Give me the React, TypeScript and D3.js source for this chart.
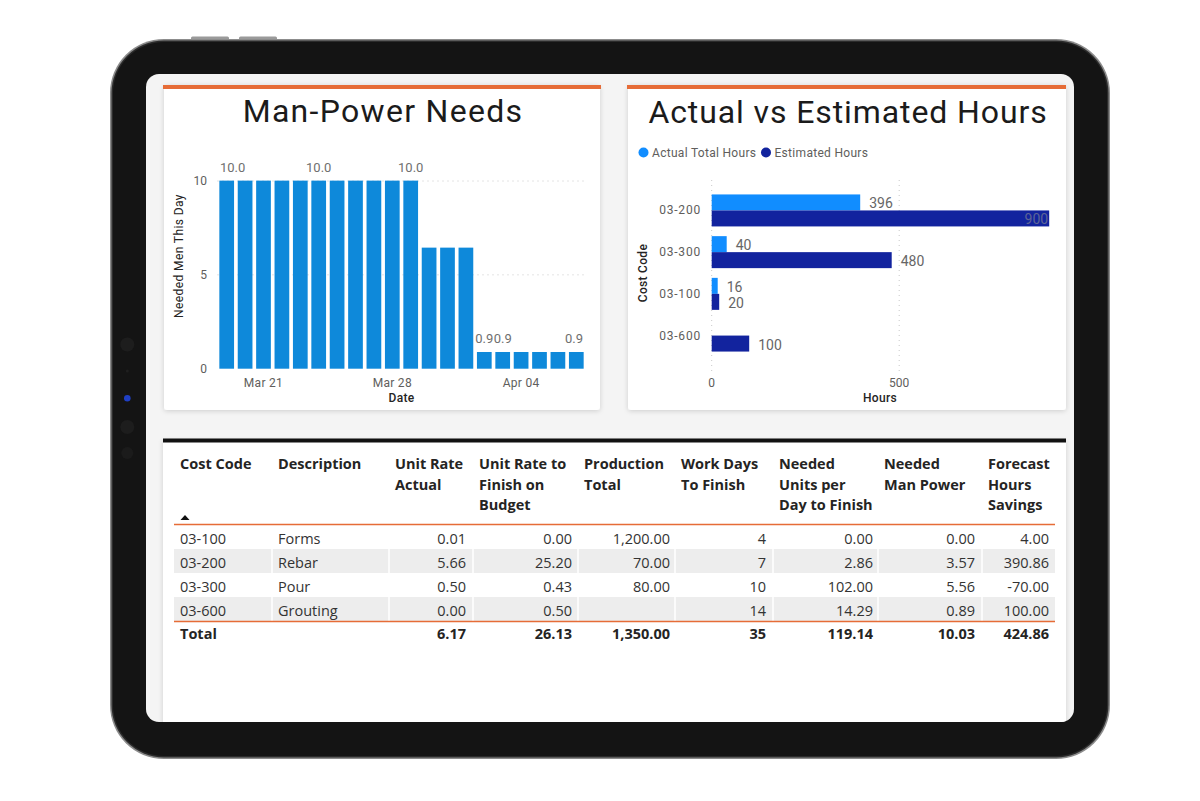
import * as d3 from 'd3'

// ---- Man-Power Needs (daily) ----
const days = [
  '2021-03-19', '2021-03-20', '2021-03-21', '2021-03-22', '2021-03-23',
  '2021-03-24', '2021-03-25', '2021-03-26', '2021-03-27', '2021-03-28',
  '2021-03-29', '2021-03-30', '2021-03-31', '2021-04-01', '2021-04-02',
  '2021-04-03', '2021-04-04', '2021-04-05', '2021-04-06', '2021-04-07',
]
const menNeeded = [
  10.02, 10.02, 10.02, 10.02, 10.02, 10.02, 10.02, 10.02, 10.02, 10.02,
  10.02, 6.45, 6.45, 6.45, 0.89, 0.89, 0.89, 0.89, 0.89, 0.89,
]
const dayTicks = ['2021-03-21', '2021-03-28', '2021-04-04']
const labelledDays = ['2021-03-19', '2021-03-24', '2021-03-29', '2021-04-02', '2021-04-03', '2021-04-07']
const menTicks = [0, 5, 10]

// ---- Actual vs Estimated Hours ----
const hourCodes = ['03-200', '03-300', '03-100', '03-600']
const actualHours: (number | null)[] = [396, 40, 16, null]
const estimatedHours = [900, 480, 20, 100]
const hourTicks = [0, 500]

// ---- table ----
const tableHeaders = [
  ['Cost Code'], ['Description'], ['Unit Rate', 'Actual'], ['Unit Rate to', 'Finish on', 'Budget'],
  ['Production', 'Total'], ['Work Days', 'To Finish'], ['Needed', 'Units per', 'Day to Finish'],
  ['Needed', 'Man Power'], ['Forecast', 'Hours', 'Savings'],
]
const tableCodes = ['03-100', '03-200', '03-300', '03-600']
const descriptions = ['Forms', 'Rebar', 'Pour', 'Grouting']
const unitRateActual = [0.01, 5.66, 0.5, 0.0]
const unitRateToFinish = [0.0, 25.2, 0.43, 0.5]
const productionTotal: (number | null)[] = [1200, 70, 80, null]
const workDaysToFinish = [4, 7, 10, 14]
const neededUnitsPerDay = [0.0, 2.86, 102.0, 14.29]
const neededManPower = [0.0, 3.57, 5.56, 0.89]
const forecastHoursSavings = [4.0, 390.86, -70.0, 100.0]
const totalsRow: (number | null)[] = [6.17, 26.13, 1350, 35, 119.14, 10.03, 424.86]

const ORANGE = '#E66C37'
const BLUE = '#118DFF'
const NAVY = '#12239E'
const DIN = 'Roboto, "DejaVu Sans", sans-serif'
const SEGOE = '"Open Sans", "Noto Sans", sans-serif'

const locale = d3.formatLocale({ decimal: '.', thousands: ',', grouping: [3], currency: ['$', ''], minus: '-' })
const fmt2 = locale.format(',.2f')
const fmtInt = locale.format('d')
const fmt1 = locale.format('.1f')

function labelWidth(s: string, size: number) {
  let w = 0
  for (const c of s) w += c === '.' ? size * 0.27 : size * 0.56
  return w
}

function ManPower() {
  const x = d3.scaleBand<string>().domain(days).range([217.5, 585.5]).paddingInner(0.2).paddingOuter(0.1)
  const y = d3.scaleLinear().domain([0, 10]).range([368.7, 181])
  const left = 217.5
  const right = 585.5
  return (
    <g>
      <text x={383} y={122} textAnchor="middle" fontFamily={DIN} fontWeight={400} fontSize={32}
        letterSpacing={1.3} fill="#1b1b1b">Man-Power Needs</text>
      {menTicks.filter(t => t > 0).map(t => (
        <line key={t} x1={left} x2={right} y1={y(t)} y2={y(t)} stroke="#c8c8c8" strokeDasharray="1 4" />
      ))}
      {menTicks.map(t => (
        <text key={t} x={207} y={y(t) + 4} textAnchor="end" fontFamily={DIN} fontSize={12} fill="#605E5C">{t}</text>
      ))}
      <text transform="translate(183,256) rotate(-90)" textAnchor="middle" fontFamily={DIN} fontSize={12}
        letterSpacing={0.4} fill="#252423">Needed Men This Day</text>
      {days.map((d, i) => (
        <rect key={d} x={x(d)} y={y(menNeeded[i])} width={x.bandwidth()} height={y(0) - y(menNeeded[i])} fill="#0E89DA" />
      ))}
      {days.map((d, i) => {
        if (!labelledDays.includes(d)) return null
        const s = fmt1(menNeeded[i])
        const w = labelWidth(s, 13)
        let cx = (x(d) ?? 0) + x.bandwidth() / 2
        cx = Math.max(left + 2.5 + w / 2, Math.min(right - 2.5 - w / 2, cx))
        return (
          <text key={d} x={cx} y={y(menNeeded[i]) - 9} textAnchor="middle" fontFamily={DIN} fontSize={13} fill="#6f6f6f">{s}</text>
        )
      })}
      {dayTicks.map(d => (
        <text key={d} x={(x(d) ?? 0) + x.bandwidth() / 2} y={387} textAnchor="middle" fontFamily={DIN} fontSize={12}
          letterSpacing={0.3} fill="#605E5C">{d3.timeFormat('%b %d')(new Date(d + 'T00:00:00'))}</text>
      ))}
      <text x={(left + right) / 2} y={402} textAnchor="middle" fontFamily={DIN} fontSize={12} fontWeight={500}
        letterSpacing={0.3} fill="#252423">Date</text>
    </g>
  )
}

function HoursChart() {
  const x = d3.scaleLinear().domain([0, 900]).range([711.7, 1049.2])
  const y = d3.scaleBand<string>().domain(hourCodes).range([174, 372]).paddingInner(0.233).paddingOuter(0.49)
  const half = y.bandwidth() / 2
  const plotRight = 1050
  const bars: { code: string; v: number | null; row: number; color: string }[] = []
  hourCodes.forEach((c, i) => {
    bars.push({ code: c, v: actualHours[i], row: 0, color: BLUE })
    bars.push({ code: c, v: estimatedHours[i], row: 1, color: NAVY })
  })
  return (
    <g>
      <text x={848} y={123} textAnchor="middle" fontFamily={DIN} fontWeight={400} fontSize={32}
        letterSpacing={0.9} fill="#1b1b1b">Actual vs Estimated Hours</text>
      <circle cx={643.5} cy={152.5} r={5} fill={BLUE} />
      <text x={652} y={157} fontFamily={DIN} fontSize={12} letterSpacing={0.3} fill="#605E5C">Actual Total Hours</text>
      <circle cx={766} cy={152.5} r={5} fill={NAVY} />
      <text x={774.5} y={157} fontFamily={DIN} fontSize={12} letterSpacing={0.3} fill="#605E5C">Estimated Hours</text>
      {hourTicks.map(t => (
        <g key={t}>
          <line x1={x(t)} x2={x(t)} y1={180} y2={373} stroke="#c8c8c8" strokeDasharray="1 4" />
          <text x={x(t)} y={387} textAnchor="middle" fontFamily={DIN} fontSize={12} fill="#605E5C">{t}</text>
        </g>
      ))}
      <text x={880} y={402} textAnchor="middle" fontFamily={DIN} fontSize={12} fontWeight={500}
        letterSpacing={0.3} fill="#252423">Hours</text>
      <text transform="translate(647,273) rotate(-90)" textAnchor="middle" fontFamily={DIN} fontSize={12}
        fontWeight={500} letterSpacing={0.3} fill="#252423">Cost Code</text>
      {hourCodes.map(c => (
        <text key={c} x={701} y={(y(c) ?? 0) + half + 4} textAnchor="end" fontFamily={DIN} fontSize={12}
          letterSpacing={0.8} fill="#605E5C">{c}</text>
      ))}
      {bars.map(b => {
        if (b.v == null) return null
        const top = (y(b.code) ?? 0) + b.row * half
        const end = x(b.v)
        const s = String(b.v)
        const w = labelWidth(s, 14)
        const inside = end + 9 + w > plotRight
        return (
          <g key={b.code + b.row}>
            <rect x={x(0)} y={top} width={end - x(0)} height={half} fill={b.color} />
            <text x={inside ? end - 1 : end + 9} y={top + half / 2 + 6} textAnchor={inside ? 'end' : 'start'}
              fontFamily={DIN} fontSize={14} fill={inside ? '#5d6496' : '#666'}>{s}</text>
          </g>
        )
      })}
    </g>
  )
}

function Table() {
  const edges = [174, 272, 389, 473, 578, 675, 773, 878, 982, 1055]
  const rowTop = d3.scaleBand<number>().domain(d3.range(tableCodes.length)).range([525, 621])
  const numCols = [unitRateActual, unitRateToFinish, productionTotal, workDaysToFinish, neededUnitsPerDay,
    neededManPower, forecastHoursSavings]
  const numFmt = [fmt2, fmt2, fmt2, fmtInt, fmt2, fmt2, fmt2]
  const rightEdge = [466, 572, 670, 766, 873, 975, 1049]
  return (
    <g>
      <rect x={163} y={438.5} width={903} height={4} fill="#111" />
      {tableHeaders.map((lines, ci) => (
        <text key={ci} fontFamily={SEGOE} fontWeight={700} fontSize={14.5} fill="#252423">
          {lines.map((l, li) => (
            <tspan key={li} x={edges[ci] + 6} y={469 + li * 20.5}>{l}</tspan>
          ))}
        </text>
      ))}
      <path d="M180.5,520 L185,515 L189.5,520 Z" fill="#111" />
      {tableCodes.map((c, ri) => {
        const top = rowTop(ri) ?? 0
        const h = rowTop.bandwidth()
        return (
          <g key={c}>
            {ri % 2 === 1 && <rect x={174} y={top} width={881} height={h} fill="#EDEDED" />}
            {ri % 2 === 1 && edges.slice(1, -1).map(e => (
              <line key={e} x1={e} x2={e} y1={top} y2={top + h} stroke="#fff" strokeWidth={1.5} />
            ))}
            <text x={edges[0] + 6} y={top + 18.5} fontFamily={SEGOE} fontSize={14.5} fill="#333">{c}</text>
            <text x={edges[1] + 6} y={top + 18.5} fontFamily={SEGOE} fontSize={14.5} fill="#333">{descriptions[ri]}</text>
            {numCols.map((col, ci) => col[ri] == null ? null : (
              <text key={ci} x={rightEdge[ci]} y={top + 18.5} textAnchor="end" fontFamily={SEGOE} fontSize={14.5}
                fill="#333">{numFmt[ci](col[ri] as number)}</text>
            ))}
          </g>
        )
      })}
      <line x1={174} x2={1055} y1={524.5} y2={524.5} stroke={ORANGE} strokeWidth={1.5} />
      <line x1={174} x2={1055} y1={621.5} y2={621.5} stroke={ORANGE} strokeWidth={1.5} />
      <text x={edges[0] + 6} y={639} fontFamily={SEGOE} fontWeight={700} fontSize={14.5} fill="#252423">Total</text>
      {totalsRow.map((v, ci) => v == null ? null : (
        <text key={ci} x={rightEdge[ci]} y={639} textAnchor="end" fontFamily={SEGOE} fontWeight={700} fontSize={14.5}
          fill="#252423">{numFmt[ci](v)}</text>
      ))}
    </g>
  )
}

export default function App() {
  return (
    <div style={{ position: 'absolute', left: 0, top: 0 }}>
      <svg width={1200} height={801} style={{ display: 'block', background: '#fff' }}>
        <defs>
          <filter id="shadow" x="-5%" y="-5%" width="110%" height="110%">
            <feDropShadow dx="0" dy="1" stdDeviation="2.5" floodColor="#000" floodOpacity="0.16" />
          </filter>
          <clipPath id="screen">
            <rect x={146} y={74} width={928} height={648} rx={13} />
          </clipPath>
        </defs>
        {/* tablet body */}
        <rect x={191} y={36.5} width={38} height={4} rx={1.5} fill="#9a9a9a" />
        <rect x={239} y={36.5} width={38} height={4} rx={1.5} fill="#9a9a9a" />
        <rect x={110} y={39} width={1000} height={720} rx={54} fill="#8c8c8c" />
        <rect x={111.5} y={40.5} width={997} height={717} rx={52.5} fill="#2b2b2b" />
        <rect x={113} y={42} width={994} height={714} rx={51} fill="#141414" />
        <circle cx={127.3} cy={344.5} r={7} fill="#1d1d1d" />
        <circle cx={127.3} cy={371} r={1.5} fill="#1f1f1f" />
        <circle cx={127.3} cy={398.3} r={3.3} fill="#1f3fc4" />
        <circle cx={127.3} cy={427} r={7} fill="#1d1d1d" />
        <circle cx={127.3} cy={453} r={6} fill="#1b1b1b" />
        {/* screen */}
        <g clipPath="url(#screen)">
          <rect x={146} y={74} width={928} height={648} fill="#F4F4F4" />
          <rect x={164} y={85} width={436} height={325} rx={3} fill="#fff" filter="url(#shadow)" />
          <rect x={628} y={85} width={438} height={325} rx={3} fill="#fff" filter="url(#shadow)" />
          <rect x={163} y={440} width={903} height={300} fill="#fff" filter="url(#shadow)" />
          <rect x={163} y={85} width={438} height={4} fill={ORANGE} />
          <rect x={627} y={85} width={439} height={4} fill={ORANGE} />
          <ManPower />
          <HoursChart />
          <Table />
        </g>
      </svg>
    </div>
  )
}
